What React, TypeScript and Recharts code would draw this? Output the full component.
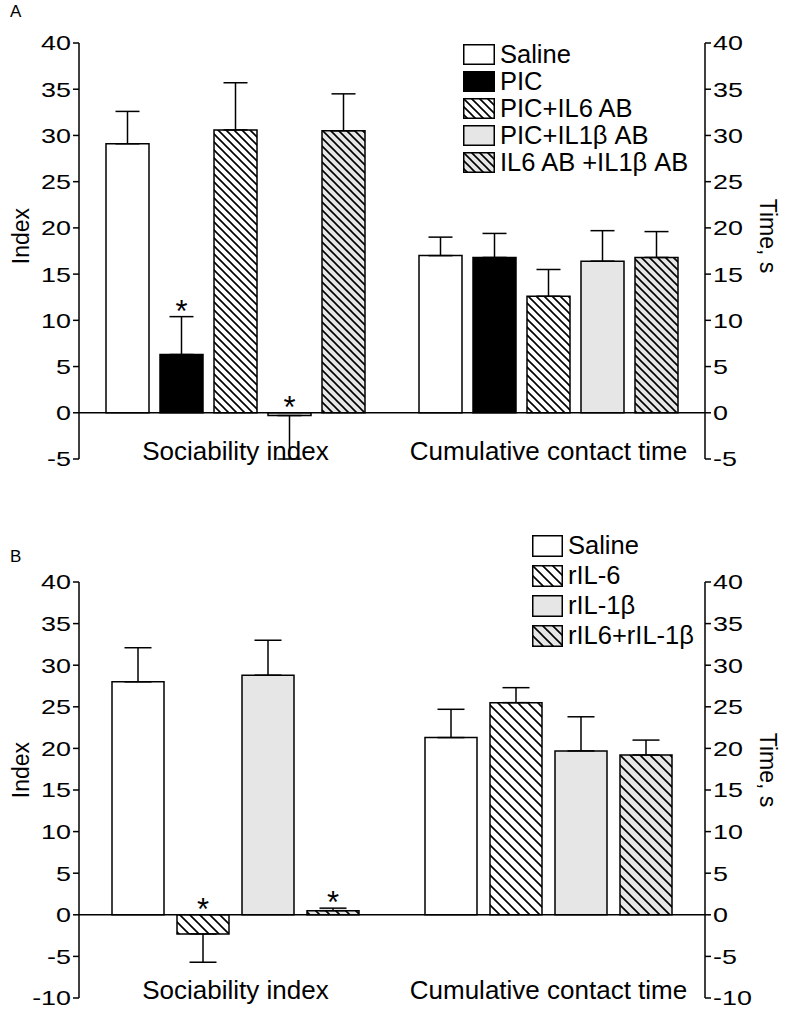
import React from 'react';
import { BarChart, Bar, XAxis, YAxis, ReferenceLine, ErrorBar, LabelList, Legend, Label } from 'recharts';

const FONT = '"Liberation Sans", Arial, Helvetica, sans-serif';

const categories = ['Sociability index', 'Cumulative contact time'];
const ticksA = [-5, 0, 5, 10, 15, 20, 25, 30, 35, 40];
const ticksB = [-10, -5, 0, 5, 10, 15, 20, 25, 30, 35, 40];

// Panel A
const namesA = ['Saline', 'PIC', 'PIC+IL6 AB', 'PIC+IL1β AB', 'IL6 AB +IL1β AB'];
const salineA = [29.1, 17.0];
const salineAErr = [3.5, 2.0];
const picA = [6.3, 16.8];
const picAErr = [4.1, 2.6];
const picIl6A = [30.6, 12.6];
const picIl6AErr = [5.1, 2.9];
const picIl1bA = [-0.3, 16.4];
const picIl1bAErr = [4.7, 3.3];
const il6Il1bA = [30.5, 16.8];
const il6Il1bAErr = [4.0, 2.8];
const sigA = [
  [false, false],
  [true, false],
  [false, false],
  [true, false],
  [false, false],
];

// Panel B
const namesB = ['Saline', 'rIL-6', 'rIL-1β', 'rIL6+rIL-1β'];
const salineB = [28.0, 21.3];
const salineBErr = [4.1, 3.4];
const rIl6B = [-2.3, 25.5];
const rIl6BErr = [3.4, 1.8];
const rIl1bB = [28.8, 19.7];
const rIl1bBErr = [4.2, 4.1];
const comboB = [0.5, 19.2];
const comboBErr = [0.3, 1.8];
const sigB = [
  [false, false],
  [true, false],
  [false, false],
  [true, false],
];

const valuesA = [salineA, picA, picIl6A, picIl1bA, il6Il1bA];
const errsA = [salineAErr, picAErr, picIl6AErr, picIl1bAErr, il6Il1bAErr];
const valuesB = [salineB, rIl6B, rIl1bB, comboB];
const errsB = [salineBErr, rIl6BErr, rIl1bBErr, comboBErr];

type Fill = { bg: string; hatch: number };
const fillsA: Fill[] = [
  { bg: '#ffffff', hatch: 0 },
  { bg: '#000000', hatch: 0 },
  { bg: '#ffffff', hatch: 8 },
  { bg: '#e6e6e6', hatch: 0 },
  { bg: '#e6e6e6', hatch: 8 },
];
const fillsB: Fill[] = [
  { bg: '#ffffff', hatch: 0 },
  { bg: '#ffffff', hatch: 10 },
  { bg: '#e6e6e6', hatch: 0 },
  { bg: '#e6e6e6', hatch: 10 },
];

function buildRows(values: number[][], errs: number[][]) {
  return categories.map((cat, i) => {
    const row: any = { cat };
    values.forEach((vals, s) => {
      row['v' + s] = vals[i];
      row['e' + s] = vals[i] >= 0 ? [0, errs[s][i]] : [errs[s][i], 0];
    });
    return row;
  });
}

const rowsA = buildRows(valuesA, errsA);
const rowsB = buildRows(valuesB, errsB);

const Hatch = ({ id, bg, size }: { id: string; bg: string; size: number }) => (
  <pattern id={id} patternUnits="userSpaceOnUse" width={size} height={size}>
    <rect width={size} height={size} fill={bg} />
    <path
      d={`M-1,-1 L${size + 1},${size + 1} M${size - 1},-1 L${size + 1},1 M-1,${size - 1} L1,${size + 1}`}
      stroke="#000"
      strokeWidth={1.6}
    />
  </pattern>
);

const fillRef = (prefix: string, f: Fill, i: number) => (f.hatch ? `url(#${prefix}${i})` : f.bg);

const TICK_FS = 21;
const TICK_SX = 1.28;

const LeftTick = (props: any) => {
  const { x, y, payload } = props;
  return (
    <text
      x={x}
      y={y}
      textAnchor="end"
      dominantBaseline="central"
      fontSize={TICK_FS}
      fontFamily={FONT}
      fill="#000"
      transform={`translate(${x} ${y}) scale(${TICK_SX} 1) translate(${-x} ${-y})`}
    >
      {payload.value}
    </text>
  );
};

const RightTick = (props: any) => {
  const { x, y, payload } = props;
  return (
    <text
      x={x}
      y={y}
      textAnchor="start"
      dominantBaseline="central"
      fontSize={TICK_FS}
      fontFamily={FONT}
      fill="#000"
      transform={`translate(${x} ${y}) scale(${TICK_SX} 1) translate(${-x} ${-y})`}
    >
      {payload.value}
    </text>
  );
};

const CatTick = (props: any) => {
  const { x, y, payload } = props;
  return (
    <text x={x} y={y + 1} textAnchor="middle" fontSize={26} fontFamily={FONT} fill="#000">
      {payload.value}
    </text>
  );
};

const makeStar = (vals: number[], errs: number[], sig: boolean[]) => (props: any) => {
  const { x, y, width, height, index } = props;
  if (!sig[index]) return null;
  const v = vals[index];
  const h = Math.abs(height);
  const top = Math.min(y, y + height);
  const ppu = Math.abs(v) > 0 ? h / Math.abs(v) : 0;
  const ref = v >= 0 ? top - errs[index] * ppu : top;
  return (
    <text x={x + width / 2} y={ref + 5} textAnchor="middle" fontSize={31} fontFamily={FONT} fill="#000">
      *
    </text>
  );
};

const LegendBox = ({
  names,
  fills,
  prefix,
  pitch,
  boxW,
  boxH,
}: {
  names: string[];
  fills: Fill[];
  prefix: string;
  pitch: number;
  boxW: number;
  boxH: number;
}) => (
  <div style={{ fontFamily: FONT, fontSize: 25.5, color: '#000' }}>
    {names.map((n, i) => (
      <div key={n} style={{ display: 'flex', alignItems: 'center', height: pitch, whiteSpace: 'nowrap' }}>
        <svg width={boxW} height={boxH} style={{ display: 'block', flex: 'none' }}>
          <defs>
            {fills[i].hatch ? <Hatch id={`${prefix}${i}`} bg={fills[i].bg} size={fills[i].hatch} /> : null}
          </defs>
          <rect
            x={0.75}
            y={0.75}
            width={boxW - 1.5}
            height={boxH - 1.5}
            fill={fillRef(prefix, fills[i], i)}
            stroke="#000"
            strokeWidth={1.5}
          />
        </svg>
        <span style={{ marginLeft: 5, lineHeight: 1 }}>{n}</span>
      </div>
    ))}
  </div>
);

const axisStroke = { stroke: '#000', strokeWidth: 1.5 };

const AxisTitle = ({ x, y, angle, text }: { x: number; y: number; angle: number; text: string }) => (
  <text
    x={x}
    y={y}
    textAnchor="middle"
    fontSize={23}
    fontFamily={FONT}
    fill="#000"
    transform={`rotate(${angle} ${x} ${y})`}
  >
    {text}
  </text>
);

type PanelProps = {
  top: number;
  height: number;
  marginTop: number;
  marginBottom: number;
  xAxisHeight: number;
  rows: any[];
  values: number[][];
  errs: number[][];
  sig: boolean[][];
  names: string[];
  fills: Fill[];
  prefix: string;
  domain: [number, number];
  ticks: number[];
  barSize: number;
  barGap: number;
  capHalf: number;
  legendLeft: number;
  legendTop: number;
  legendPitch: number;
  legendBoxW: number;
  legendBoxH: number;
  titleY: number;
};

const Panel = (p: PanelProps) => (
  <div style={{ position: 'absolute', left: 0, top: p.top }}>
    <BarChart
      width={786}
      height={p.height}
      data={p.rows}
      margin={{ top: p.marginTop, right: 21, left: 19, bottom: p.marginBottom }}
      barGap={p.barGap}
    >
      <defs>
        {p.fills.map((f, i) => (f.hatch ? <Hatch key={i} id={`${p.prefix}${i}`} bg={f.bg} size={f.hatch} /> : null))}
      </defs>
      <XAxis
        dataKey="cat"
        axisLine={false}
        tickLine={false}
        tickSize={0}
        tickMargin={0}
        height={p.xAxisHeight}
        tick={<CatTick />}
        interval={0}
      />
      <YAxis
        yAxisId="left"
        domain={p.domain}
        ticks={p.ticks}
        interval={0}
        width={60}
        axisLine={axisStroke}
        tickLine={axisStroke}
        tickSize={6}
        tickMargin={2}
        tick={<LeftTick />}
        allowDataOverflow
      >
        <Label content={() => <AxisTitle x={29} y={p.titleY} angle={-90} text="Index" />} />
      </YAxis>
      <YAxis
        yAxisId="right"
        orientation="right"
        domain={p.domain}
        ticks={p.ticks}
        interval={0}
        width={60}
        axisLine={axisStroke}
        tickLine={axisStroke}
        tickSize={6}
        tickMargin={2}
        tick={<RightTick />}
        allowDataOverflow
      >
        <Label content={() => <AxisTitle x={760} y={p.titleY} angle={90} text="Time, s" />} />
      </YAxis>
      <Legend
        layout="vertical"
        align="center"
        verticalAlign="middle"
        wrapperStyle={{ left: p.legendLeft, top: p.legendTop, width: 280 }}
        content={() => (
          <LegendBox
            names={p.names}
            fills={p.fills}
            prefix={p.prefix + 'lg'}
            pitch={p.legendPitch}
            boxW={p.legendBoxW}
            boxH={p.legendBoxH}
          />
        )}
      />
      {p.values.map((vals, s) => (
        <Bar
          key={s}
          yAxisId="left"
          dataKey={'v' + s}
          name={p.names[s]}
          barSize={p.barSize}
          fill={fillRef(p.prefix, p.fills[s], s)}
          stroke="#000"
          strokeWidth={1.5}
          isAnimationActive={false}
        >
          <ErrorBar dataKey={'e' + s} width={p.capHalf} stroke="#000" strokeWidth={1.5} direction="y" />
          <LabelList dataKey={'v' + s} content={makeStar(vals, p.errs[s], p.sig[s])} />
        </Bar>
      ))}
      <ReferenceLine yAxisId="left" y={0} stroke="#000" strokeWidth={1.5} />
    </BarChart>
  </div>
);

export default function App() {
  return (
    <div
      style={{
        position: 'absolute',
        left: 0,
        top: 0,
        width: 786,
        height: 1017,
        background: '#fff',
        fontFamily: FONT,
        overflow: 'hidden',
      }}
    >
      <Panel
        top={0}
        height={500}
        marginTop={43}
        marginBottom={11}
        xAxisHeight={30}
        rows={rowsA}
        values={valuesA}
        errs={errsA}
        sig={sigA}
        names={namesA}
        fills={fillsA}
        prefix="hA"
        domain={[-5, 40]}
        ticks={ticksA}
        barSize={43}
        barGap={11}
        capHalf={12}
        legendLeft={463}
        legendTop={41}
        legendPitch={27}
        legendBoxW={32}
        legendBoxH={21}
        titleY={236}
      />
      <Panel
        top={525}
        height={492}
        marginTop={57}
        marginBottom={9}
        xAxisHeight={10}
        rows={rowsB}
        values={valuesB}
        errs={errsB}
        sig={sigB}
        names={namesB}
        fills={fillsB}
        prefix="hB"
        domain={[-10, 40]}
        ticks={ticksB}
        barSize={52}
        barGap={13}
        capHalf={13.5}
        legendLeft={532}
        legendTop={6}
        legendPitch={30}
        legendBoxW={31}
        legendBoxH={22}
        titleY={245}
      />
      <div style={{ position: 'absolute', left: 10, top: 2, fontSize: 17, fontFamily: FONT }}>A</div>
      <div style={{ position: 'absolute', left: 10, top: 547, fontSize: 17, fontFamily: FONT }}>B</div>
    </div>
  );
}
